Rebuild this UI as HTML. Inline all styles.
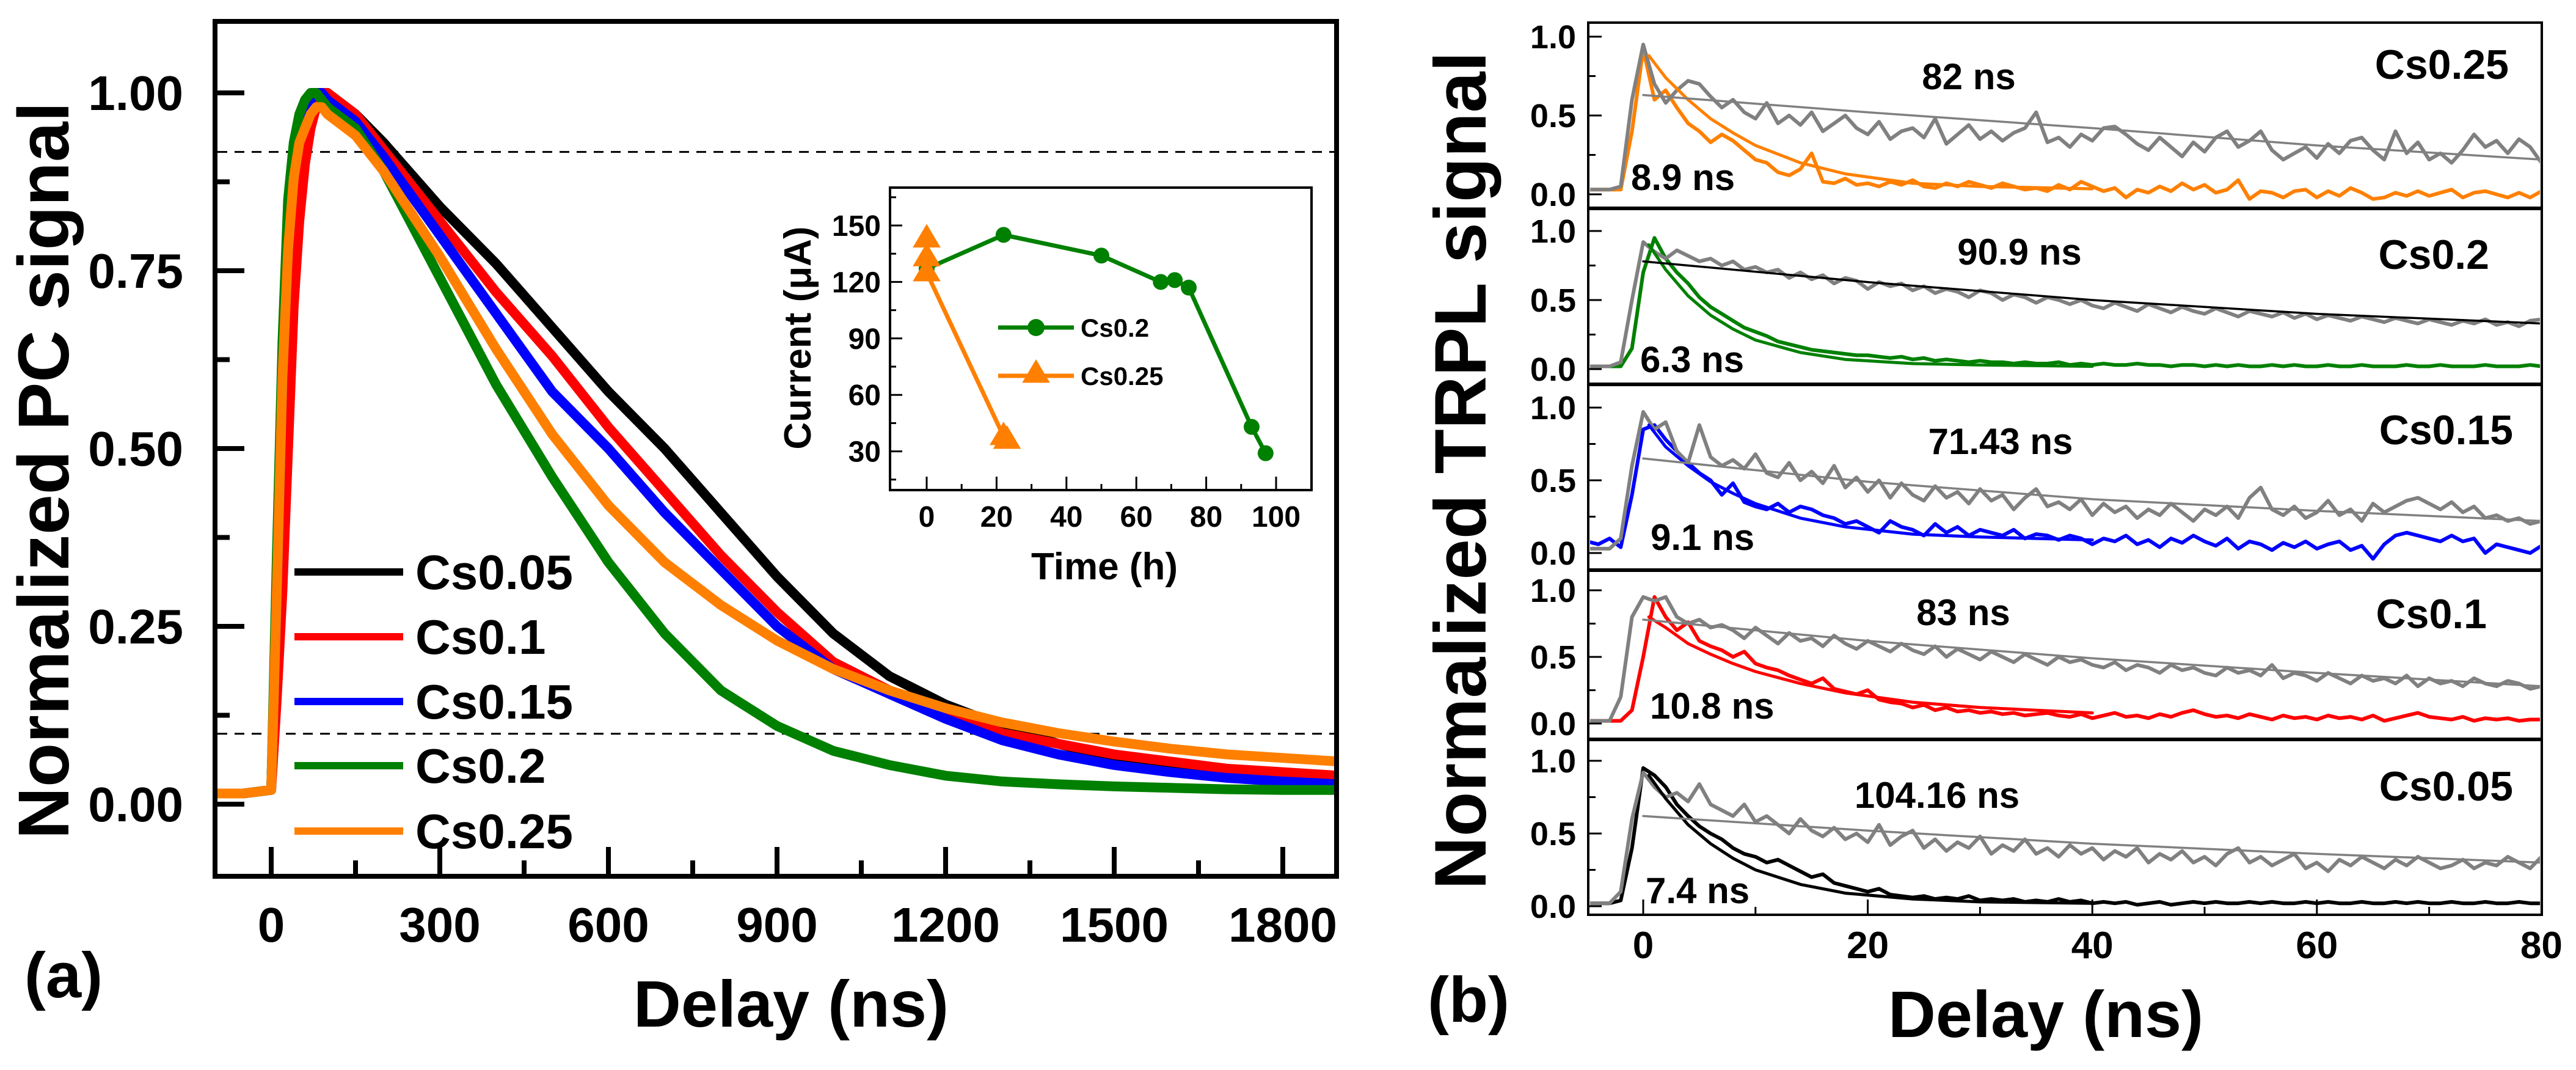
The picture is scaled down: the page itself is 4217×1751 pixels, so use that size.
<!DOCTYPE html>
<html><head><meta charset="utf-8"><style>
html,body{margin:0;padding:0;background:#fff;}
svg{display:block;font-family:"Liberation Sans",Arial,sans-serif;font-weight:bold;}
</style></head><body>
<svg id="fig" xmlns="http://www.w3.org/2000/svg" width="4217" height="1751" viewBox="0 0 4217 1751">
<defs>
<clipPath id="clipA"><rect x="356" y="39" width="1828" height="1391"/></clipPath>
</defs>
<g id="panelA"></g>
<g id="inset"></g>
<g id="panelB"></g>
</svg>
<script>
// ---------- Panel (a) data ----------
const pcTimes = [-100,-50,0,10,20,30,40,50,60,70,80,90,100,150,200,300,400,500,600,700,800,900,1000,1100,1200,1300,1400,1500,1600,1700,1800,1900];
const pcCs005 = [0.015,0.015,0.02,0.3,0.6,0.8,0.9,0.95,0.97,0.99,1.0,1.0,1.0,0.97,0.93,0.84,0.76,0.67,0.58,0.5,0.41,0.32,0.24,0.18,0.14,0.11,0.085,0.065,0.05,0.04,0.032,0.025];
const pcCs01 = [0.015,0.015,0.02,0.15,0.3,0.5,0.7,0.82,0.9,0.95,0.98,1.0,1.0,0.97,0.92,0.82,0.72,0.63,0.53,0.44,0.35,0.27,0.2,0.16,0.13,0.1,0.085,0.07,0.06,0.05,0.045,0.04];
const pcCs015 = [0.015,0.015,0.02,0.3,0.6,0.8,0.9,0.95,0.97,0.99,1.0,1.0,0.99,0.96,0.91,0.8,0.69,0.58,0.5,0.41,0.33,0.25,0.19,0.155,0.12,0.09,0.07,0.055,0.045,0.037,0.032,0.028];
const pcCs02 = [0.015,0.015,0.02,0.35,0.65,0.85,0.93,0.97,0.99,1.0,1.0,0.99,0.98,0.95,0.89,0.74,0.59,0.46,0.34,0.24,0.16,0.11,0.075,0.055,0.04,0.032,0.028,0.025,0.023,0.021,0.02,0.02];
const pcCs025 = [0.015,0.015,0.02,0.3,0.6,0.78,0.88,0.93,0.95,0.97,0.98,0.98,0.97,0.94,0.89,0.77,0.64,0.52,0.42,0.34,0.28,0.23,0.19,0.16,0.135,0.115,0.1,0.088,0.078,0.07,0.065,0.06];
const pcThresholds = [0.917, 0.099];
const pcXTicks = [0,300,600,900,1200,1500,1800];
const pcYTicks = [0,0.25,0.5,0.75,1.0];
const pcYLabels = ["0.00","0.25","0.50","0.75","1.00"];
const pcLegend = ["Cs0.05","Cs0.1","Cs0.15","Cs0.2","Cs0.25"];
// ---------- Inset data ----------
const insetGreenTime = [0,22,50,67,71,75,93,97];
const insetGreenCurrent = [127,145,134,120,121,117,43,29];
const insetOrangeTime = [0,0,0,22,23];
const insetOrangeCurrent = [143,133,125,38,36];
const insetXTicks = [0,20,40,60,80,100];
const insetYTicks = [30,60,90,120,150];
// ---------- Panel (b) data (values x100, t from -5 ns, step 1 ns) ----------
const trplGrey025 = [3,3,3,5,60,95,70,58,66,72,70,62,55,60,52,48,58,45,50,44,52,40,45,50,42,38,46,35,40,42,36,48,32,38,44,35,40,34,39,42,52,33,36,30,38,34,42,43,38,32,28,36,30,24,33,27,36,40,30,34,40,28,22,26,30,23,32,26,34,36,28,22,40,26,33,22,26,20,28,38,30,34,26,35,30,20];
const trplCol025 = [3,3,3,3,40,92,60,66,55,45,40,33,38,34,28,22,20,14,12,16,26,8,7,10,6,7,5,8,6,9,5,4,7,5,8,6,4,7,5,3,4,2,6,3,8,5,2,4,-2,3,1,5,2,7,3,6,1,3,9,-3,2,1,-2,2,3,-2,2,-1,4,1,-3,-2,1,-1,2,-1,1,3,-2,1,2,0,-2,1,-2,2];
const trplGrey02 = [2,2,2,5,50,92,85,80,86,82,78,80,75,78,72,74,70,72,66,70,65,68,62,66,64,58,63,60,62,57,60,55,58,56,52,57,55,50,54,52,48,52,50,47,50,46,44,48,45,42,47,44,41,45,42,40,44,41,38,42,40,38,41,37,40,36,39,37,35,38,36,34,37,35,33,36,34,32,35,33,36,32,34,31,35,36];
const trplCol02 = [2,2,2,2,15,70,95,80,70,62,52,45,40,35,30,27,24,20,18,16,14,13,12,11,10,10,9,8,9,7,8,6,7,6,5,6,5,5,4,5,4,4,5,3,4,3,4,3,3,4,3,3,2,3,3,2,3,2,3,2,2,3,2,3,2,2,3,2,2,3,2,2,2,3,2,2,3,2,2,2,3,2,2,2,3,2];
const trplGrey015 = [3,3,3,10,60,97,85,90,70,62,88,66,60,64,58,68,55,52,62,50,56,48,60,45,52,42,50,38,48,40,36,46,38,42,34,44,36,40,30,38,44,32,35,30,37,26,34,28,32,24,30,26,34,28,22,30,26,32,24,38,45,30,26,32,24,28,36,26,30,22,34,28,32,36,38,34,30,35,28,32,24,26,22,24,20,22];
const trplCol015 = [8,6,10,4,40,85,88,78,70,62,55,50,40,48,35,32,30,34,28,32,30,26,24,20,22,18,14,22,18,16,12,20,14,18,12,16,14,12,16,10,13,12,9,12,10,6,10,8,12,6,9,4,10,7,12,8,5,10,3,8,6,2,7,4,8,3,6,8,2,5,-4,6,12,14,12,10,8,12,8,10,0,6,4,2,0,5];
const trplGrey01 = [2,2,2,20,80,95,92,95,80,75,78,72,74,70,64,72,66,60,68,62,64,58,66,60,56,62,58,54,60,55,52,58,50,56,52,48,54,50,46,52,48,44,50,46,48,44,42,46,40,44,42,38,44,40,42,38,36,42,38,40,36,44,34,38,36,32,38,34,30,36,32,34,30,36,28,34,30,32,28,34,30,28,32,30,26,28];
const trplCol01 = [2,2,2,2,10,50,95,80,70,76,62,58,55,50,54,45,42,40,36,33,30,34,26,24,22,25,18,16,15,12,14,10,12,9,10,8,9,7,8,6,7,8,6,5,7,4,6,8,5,6,4,7,5,8,10,7,5,6,4,7,5,3,6,4,5,3,6,4,5,3,6,2,4,6,8,5,4,3,5,2,4,3,4,2,3,3];
const trplGrey005 = [2,2,2,10,60,92,82,75,78,72,84,70,66,62,70,58,62,56,50,60,52,48,54,46,50,44,56,42,48,52,40,46,38,44,40,48,36,42,38,46,36,40,34,42,36,40,32,38,34,40,30,36,32,38,30,34,28,36,40,30,34,28,32,36,26,30,24,32,28,34,30,26,32,28,34,30,26,28,32,26,30,28,34,30,26,34];
const trplCol005 = [2,2,2,4,40,95,90,82,70,62,55,50,46,40,36,34,30,32,28,24,20,22,16,14,12,10,12,8,7,6,7,5,6,5,7,4,5,4,5,3,4,3,5,3,4,2,3,2,3,1,2,3,1,2,3,2,3,2,2,3,2,3,2,2,3,2,3,2,2,3,2,2,3,2,3,2,2,3,2,2,3,2,2,3,2,2];
// fits: [time, value]
const fitTimesFast = [0.5,2,4,6,8,10,14,18,24,30,40];
const fitCol025 = [0.88,0.74,0.6,0.48,0.39,0.31,0.2,0.13,0.07,0.05,0.035];
const fitCol02 = [0.9,0.72,0.53,0.39,0.29,0.21,0.12,0.07,0.04,0.03,0.02];
const fitCol015 = [0.88,0.73,0.6,0.49,0.41,0.34,0.24,0.18,0.13,0.11,0.09];
const fitCol01 = [0.8,0.72,0.6,0.52,0.45,0.39,0.3,0.23,0.16,0.12,0.08];
const fitCol005 = [0.9,0.74,0.56,0.43,0.33,0.25,0.15,0.09,0.05,0.03,0.02];
const fitTimesSlow = [0,20,40,60,80];
const fitGrey025 = [0.63,0.52,0.42,0.31,0.22];
const fitGrey02 = [0.78,0.63,0.5,0.4,0.33];
const fitGrey015 = [0.65,0.49,0.37,0.29,0.22];
const fitGrey01 = [0.78,0.62,0.49,0.38,0.28];
const fitGrey005 = [0.62,0.52,0.43,0.36,0.3];
const trplLabels = ["Cs0.25","Cs0.2","Cs0.15","Cs0.1","Cs0.05"];
const trplSlowTau = ["82 ns","90.9 ns","71.43 ns","83 ns","104.16 ns"];
const trplFastTau = ["8.9 ns","6.3 ns","9.1 ns","10.8 ns","7.4 ns"];
const trplXTicks = [0,20,40,60,80];

const NS = "http://www.w3.org/2000/svg";
function mk(parent, tag, attrs){ const e=document.createElementNS(NS,tag); for(const k in attrs) e.setAttribute(k,attrs[k]); parent.appendChild(e); return e; }
function txt(parent, x, y, s, size, anchor, name){
  const t=mk(parent,'text',{x:x,y:y,'font-size':size,'text-anchor':anchor||'middle',fill:'#000'});
  t.textContent=s;
  
  
  return t;
}
function poly(parent, xs, ys, fx, fy, color, w, name){
  let pts=[]; for(let i=0;i<xs.length&&i<ys.length;i++) pts.push(fx(xs[i]).toFixed(1)+','+fy(ys[i]).toFixed(1));
  const p=mk(parent,'polyline',{points:pts.join(' '),fill:'none',stroke:color,'stroke-width':w,'stroke-linejoin':'round','stroke-linecap':'round'});
  
  
  return p;
}

// ===== Panel A =====
const A=document.getElementById('panelA');
const xA=t=>444+0.92*t, yA=v=>1316-1164*v;
const frA=mk(A,'rect',{x:352,y:35,width:1836,height:1399,fill:'none',stroke:'#000','stroke-width':8});


pcXTicks.forEach(t=>{ mk(A,'line',{x1:xA(t),x2:xA(t),y1:1434,y2:1386,stroke:'#000','stroke-width':8}); txt(A,xA(t),1541,String(t),80,'middle','x-tick-label'); });
pcXTicks.forEach(t=>{ const m=t+150; if(m<1900) mk(A,'line',{x1:xA(m),x2:xA(m),y1:1434,y2:1408,stroke:'#000','stroke-width':8}); });
mk(A,'line',{x1:xA(-50),x2:xA(-50),y1:1434,y2:1434,stroke:'#000'});
pcYTicks.forEach((v,i)=>{ mk(A,'line',{x1:352,x2:400,y1:yA(v),y2:yA(v),stroke:'#000','stroke-width':8}); txt(A,300,yA(v)+28,pcYLabels[i],80,'end','y-tick-label'); if(v<1) mk(A,'line',{x1:352,x2:376,y1:yA(v+0.125),y2:yA(v+0.125),stroke:'#000','stroke-width':8}); });
pcThresholds.forEach(v=>{ const l=mk(A,'line',{x1:356,x2:2184,y1:yA(v),y2:yA(v),stroke:'#000','stroke-width':3,'stroke-dasharray':'16,12'});   });
const gA=mk(A,'g',{'clip-path':'url(#clipA)'});
poly(gA,pcTimes,pcCs005,xA,yA,'#000',16,'series-cs005');
poly(gA,pcTimes,pcCs01,xA,yA,'#ff0000',16,'series-cs01');
poly(gA,pcTimes,pcCs015,xA,yA,'#0000ff',16,'series-cs015');
poly(gA,pcTimes,pcCs02,xA,yA,'#008000',16,'series-cs02');
poly(gA,pcTimes,pcCs025,xA,yA,'#ff8000',16,'series-cs025');
const legCols=['#000','#ff0000','#0000ff','#008000','#ff8000'];
const legY=[936,1042,1148,1253,1360];
pcLegend.forEach((s,i)=>{ const l=mk(A,'line',{x1:482,x2:660,y1:legY[i],y2:legY[i],stroke:legCols[i],'stroke-width':12});   txt(A,680,legY[i]+28,s,80,'start','legend-entry'); });
const ytA=txt(A,0,0,'Normalized PC signal',118,'middle','y-axis-title-a'); ytA.setAttribute('transform','translate(112,770) rotate(-90)');
txt(A,1295,1680,'Delay (ns)',108,'middle','x-axis-title-a');
txt(A,104,1632,'(a)',105,'middle','panel-label-a');

// ===== Inset =====
const I=document.getElementById('inset');
const xI=h=>1517+5.72*h, yI=c=>369+(150-c)*3.08;
const frI=mk(I,'rect',{x:1457,y:307,width:690,height:495,fill:'#fff',stroke:'#000','stroke-width':4});


insetXTicks.forEach(h=>{ mk(I,'line',{x1:xI(h),x2:xI(h),y1:802,y2:780,stroke:'#000','stroke-width':3}); if(h<100) mk(I,'line',{x1:xI(h+10),x2:xI(h+10),y1:802,y2:792,stroke:'#000','stroke-width':3}); txt(I,xI(h),862,String(h),48,'middle','inset-x-tick-label'); });
insetYTicks.forEach(c=>{ mk(I,'line',{x1:1457,x2:1477,y1:yI(c),y2:yI(c),stroke:'#000','stroke-width':3}); mk(I,'line',{x1:1457,x2:1467,y1:yI(c+15),y2:yI(c+15),stroke:'#000','stroke-width':3}); txt(I,1442,yI(c)+17,String(c),48,'end','inset-y-tick-label'); });
mk(I,'line',{x1:1457,x2:1467,y1:yI(15),y2:yI(15),stroke:'#000','stroke-width':3});
poly(I,insetGreenTime,insetGreenCurrent,xI,yI,'#008000',7,'inset-series-cs02');
insetGreenTime.forEach((h,i)=>{ const c=mk(I,'circle',{cx:xI(h),cy:yI(insetGreenCurrent[i]),r:13,fill:'#008000'});   });
poly(I,insetOrangeTime,insetOrangeCurrent,xI,yI,'#ff8000',7,'inset-series-cs025');
function tri(g,x,y,s){ return mk(g,'polygon',{points:`${x},${y-s} ${x-s*0.95},${y+s*0.6} ${x+s*0.95},${y+s*0.6}`,fill:'#ff8000'}); }
insetOrangeTime.forEach((h,i)=>{ const p=tri(I,xI(h),yI(insetOrangeCurrent[i]),24);   });
mk(I,'line',{x1:1634,x2:1758,y1:536,y2:536,stroke:'#008000','stroke-width':7});
mk(I,'circle',{cx:1696,cy:536,r:14,fill:'#008000'});
txt(I,1769,551,'Cs0.2',42,'start','inset-legend-entry');
mk(I,'line',{x1:1634,x2:1758,y1:615,y2:615,stroke:'#ff8000','stroke-width':7});
tri(I,1696,612,24);
txt(I,1769,630,'Cs0.25',42,'start','inset-legend-entry');
const ytI=txt(I,0,0,'Current (\u03bcA)',62,'middle','inset-y-axis-title'); ytI.setAttribute('transform','translate(1327,553) rotate(-90)');
txt(I,1808,948,'Time (h)',62,'middle','inset-x-axis-title');

// ===== Panel B =====
const B=document.getElementById('panelB');
const xB=t=>2690+18.38*t;
const subTop=[37,341,629,933,1210], subBot=[341,629,933,1210,1497];
const y1px=[60,378,667,966,1245], y0px=[318,604,905,1184,1483];
const greys=[trplGrey025,trplGrey02,trplGrey015,trplGrey01,trplGrey005];
const cols=[trplCol025,trplCol02,trplCol015,trplCol01,trplCol005];
const fitsC=[fitCol025,fitCol02,fitCol015,fitCol01,fitCol005];
const fitsG=[fitGrey025,fitGrey02,fitGrey015,fitGrey01,fitGrey005];
const colColor=['#ff8000','#008000','#0000ff','#ff0000','#000'];
const greyFitColor=['#808080','#000','#808080','#808080','#808080'];
const slowPos=[[3223,146],[3306,433],[3275,743],[3214,1023],[3171,1322]];
const fastPos=[[2670,311],[2685,609],[2702,900],[2701,1176],[2694,1478]];
const labRight=[4107,4075,4114,4071,4114], labY=[129,440,727,1028,1310];
const defs=document.querySelector('defs');
for(let k=0;k<5;k++){
  const g=mk(B,'g',{});
  
  
  const cp=mk(defs,'clipPath',{id:'clipB'+k}); mk(cp,'rect',{x:2603,y:subTop[k]+3,width:1555,height:subBot[k]-subTop[k]-6});
  const yB=v=>y0px[k]-(y0px[k]-y1px[k])*v;
  const yR=v=>yB(v/100);
  const tR=i=>xB(i-5);
  const idx=greys[k].map((_,i)=>i);
  const cg=mk(g,'g',{'clip-path':`url(#clipB${k})`});
  poly(cg,idx,cols[k],tR,yR,colColor[k],6,'trpl-raw-'+trplLabels[k]);
  poly(cg,idx,greys[k],tR,yR,'#808080',6,'trpl-raw-grey-'+trplLabels[k]);
  poly(cg,fitTimesFast,fitsC[k],xB,yB,colColor[k],5,'trpl-fit-fast-'+trplLabels[k]);
  poly(cg,fitTimesSlow,fitsG[k],xB,yB,greyFitColor[k],3.5,'trpl-fit-slow-'+trplLabels[k]);
  [0,0.5,1].forEach(v=>{ mk(g,'line',{x1:2600,x2:2622,y1:yB(v),y2:yB(v),stroke:'#000','stroke-width':3}); txt(g,2580,yB(v)+19,v.toFixed(1),54,'end','y-tick-label-b'); });
  [0.25,0.75].forEach(v=>mk(g,'line',{x1:2600,x2:2612,y1:yB(v),y2:yB(v),stroke:'#000','stroke-width':3}));
  txt(g,labRight[k],labY[k],trplLabels[k],68,'end','subpanel-label');
  txt(g,slowPos[k][0],slowPos[k][1],trplSlowTau[k],60,'middle','slow-lifetime-label');
  txt(g,fastPos[k][0],fastPos[k][1],trplFastTau[k],60,'start','fast-lifetime-label');
  if(k<4){ mk(g,'line',{x1:2600,x2:4161,y1:subBot[k],y2:subBot[k],stroke:'#000','stroke-width':6}); }
}
const frB=mk(B,'rect',{x:2600,y:37,width:1561,height:1460,fill:'none',stroke:'#000','stroke-width':4});


trplXTicks.forEach(t=>{ mk(B,'line',{x1:xB(t),x2:xB(t),y1:1497,y2:1472,stroke:'#000','stroke-width':3}); if(t<80) mk(B,'line',{x1:xB(t+10),x2:xB(t+10),y1:1497,y2:1484,stroke:'#000','stroke-width':3}); txt(B,xB(t),1568,String(t),62,'middle','x-tick-label-b'); });
const ytB=txt(B,0,0,'Normalized TRPL signal',120,'middle','y-axis-title-b'); ytB.setAttribute('transform','translate(2432,770) rotate(-90)');
txt(B,3349,1697,'Delay (ns)',108,'middle','x-axis-title-b');
txt(B,2404,1672,'(b)',105,'middle','panel-label-b');
</script>
</body></html>
